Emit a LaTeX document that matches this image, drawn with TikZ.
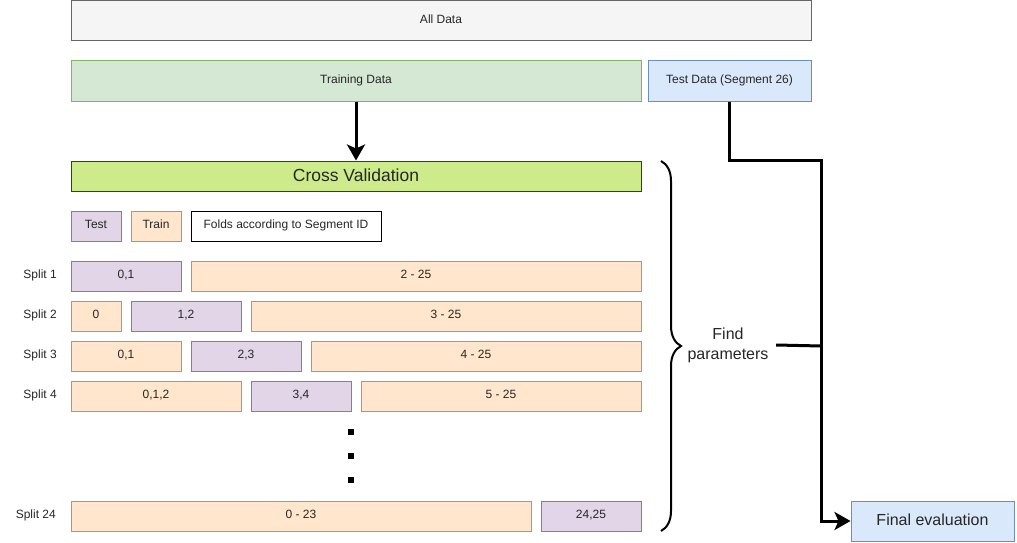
\documentclass[tikz,border=0pt]{standalone}
\usepackage{fontspec}
\setmainfont{Liberation Sans}
\usetikzlibrary{arrows.meta,decorations.pathreplacing}

\definecolor{greyfill}{HTML}{F5F5F5}
\definecolor{greyline}{HTML}{666666}
\definecolor{greenfill}{HTML}{D5E8D4}
\definecolor{greenline}{HTML}{82B366}
\definecolor{bluefill}{HTML}{DAE8FC}
\definecolor{blueline}{HTML}{6C8EBF}
\definecolor{limefill}{HTML}{CDEB8B}
\definecolor{limeline}{HTML}{36393D}
\definecolor{purplefill}{HTML}{E1D5E7}
\definecolor{purpleline}{HTML}{9673A6}
\definecolor{orangefill}{HTML}{FFE6CC}
\definecolor{orangeline}{HTML}{D79B00}

\tikzset{
    box/.style={draw, rectangle, line width=1pt, inner sep=0pt, text=black!85, text height=9pt, text depth=4.5pt},
    testfold/.style={box, fill=purplefill, draw=purpleline, minimum height=30pt},
    trainfold/.style={box, fill=orangefill, draw=orangeline, minimum height=30pt},
    splitlabel/.style={anchor=east, inner sep=0pt, text=black!85, text height=9pt, text depth=4.5pt},
    conn/.style={line width=3pt},
    tip/.style={-{Stealth[length=16pt,width=18pt,inset=4pt]}}
}

\begin{document}
\begin{tikzpicture}[x=1pt, y=-1pt, font=\fontsize{12}{14.4}\selectfont]
    \useasboundingbox (0,0) rectangle (1017,543);

    % Data
    \node[box, fill=greyfill, draw=greyline, minimum width=740pt, minimum height=40pt] (alldata) at (441,21) {All Data};
    \node[box, fill=greenfill, draw=greenline, minimum width=570pt, minimum height=40pt] (traindata) at (356,81) {Training Data};
    \node[box, fill=bluefill, draw=blueline, minimum width=163pt, minimum height=40pt] (testdata) at (729.5,81) {Test Data (Segment 26)};

    % Cross Validation
    \node[box, fill=limefill, draw=limeline, minimum width=570pt, minimum height=30pt, text height=12.6pt, text depth=2.6pt, font=\fontsize{17.5}{20}\selectfont] (crossval) at (356,176) {Cross Validation};
    \draw[conn, tip] (traindata) -- (crossval);

    % Legend
    \node[testfold, minimum width=50pt] (legtest) at (96,226) {Test};
    \node[trainfold, minimum width=50pt] (legtrain) at (156,226) {Train};
    \node[box, minimum width=190pt, minimum height=30pt] (folds) at (286,226) {Folds according to Segment ID};

    % Splits
    \node[splitlabel] (lab1) at (57,276) {Split 1};
    \node[testfold, minimum width=110pt] (s1test) at (126,276) {0,1};
    \node[trainfold, minimum width=450pt] (s1train) at (416,276) {2 - 25};

    \node[splitlabel] (lab2) at (57,316) {Split 2};
    \node[trainfold, minimum width=50pt] (s2pre) at (96,316) {0};
    \node[testfold, minimum width=110pt] (s2test) at (186,316) {1,2};
    \node[trainfold, minimum width=390pt] (s2train) at (446,316) {3 - 25};

    \node[splitlabel] (lab3) at (57,356) {Split 3};
    \node[trainfold, minimum width=110pt] (s3pre) at (126,356) {0,1};
    \node[testfold, minimum width=110pt] (s3test) at (246,356) {2,3};
    \node[trainfold, minimum width=330pt] (s3train) at (476,356) {4 - 25};

    \node[splitlabel] (lab4) at (57,396) {Split 4};
    \node[trainfold, minimum width=170pt] (s4pre) at (156,396) {0,1,2};
    \node[testfold, minimum width=100pt] (s4test) at (301,396) {3,4};
    \node[trainfold, minimum width=280pt] (s4train) at (501,396) {5 - 25};

    % Dots
    \foreach \y in {432,456,480}
        \fill (348,\y-3) rectangle (354,\y+3);

    \node[splitlabel] (lab24) at (56,516) {Split 24};
    \node[trainfold, minimum width=460pt] (s24pre) at (301,516) {0 - 23};
    \node[testfold, minimum width=100pt] (s24test) at (591,516) {24,25};

    % Brace
    \draw[line width=2pt, decorate, decoration={brace, amplitude=20pt}] (661,161) -- (661,531);
    \node[inner sep=0pt, minimum width=96pt, align=center, font=\fontsize{16}{20}\selectfont, text=black!85] (findparam) at (728,345) {Find\\parameters};

    % Final evaluation
    \node[box, fill=bluefill, draw=blueline, minimum width=163pt, minimum height=40pt, text height=12.3pt, text depth=4.3pt, font=\fontsize{16}{19}\selectfont] (finaleval) at (932.5,521) {Final evaluation};
    \coordinate (merge) at (821,346);
    \draw[conn, tip] (testdata.south) -- (testdata.south |- crossval.north) -| (merge) |- (finaleval.west);
    \draw[conn] (findparam.east) -- (merge);
\end{tikzpicture}
\end{document}
